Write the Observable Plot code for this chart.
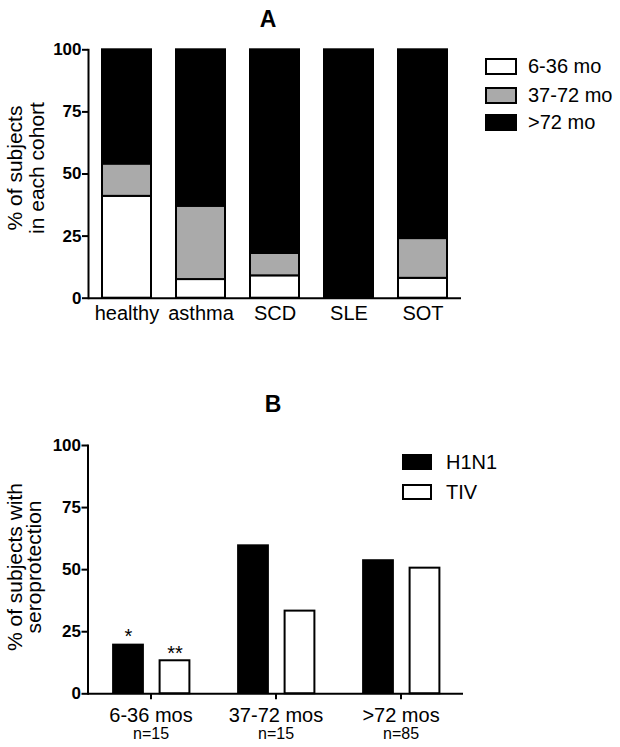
<!DOCTYPE html>
<html>
<head>
<meta charset="utf-8">
<script src="https://cdn.jsdelivr.net/npm/d3@7"></script>
<script src="https://cdn.jsdelivr.net/npm/@observablehq/plot@0.6"></script>
<style>
  body { margin: 0; background: #fff; }
  #fig { position: relative; width: 620px; height: 747px; overflow: hidden; color: #000;
         font-family: "Liberation Sans", Arial, sans-serif; }
  #fig svg { position: absolute; left: 0; }
  .ptitle { position: absolute; font-weight: bold; font-size: 23px; line-height: 23px;
            transform: translateX(-50%); }
  .ytitle { position: absolute; width: 260px; text-align: center; font-size: 21px;
            white-space: nowrap; transform: rotate(-90deg); }
  .lrow { position: absolute; display: flex; align-items: center; white-space: nowrap; font-size: 20px; }
  .sw { box-sizing: border-box; border: 2px solid #000; display: inline-block; }
</style>
</head>
<body>
<div id="fig"></div>
<script>
// ---------- Panel A data ----------
const titleA = "A";
const yTitleA = ["% of subjects", "in each cohort"];
const cohorts = ["healthy", "asthma", "SCD", "SLE", "SOT"];
const ageGroups = ["6-36 mo", "37-72 mo", ">72 mo"];
const age6to36 = [41, 7.5, 9, 0, 8];
const age37to72 = [13, 29.5, 9, 0, 16];
const ageOver72 = [46, 63, 82, 100, 76];
const ageColors = ["#ffffff", "#aaaaaa", "#000000"];
const yTicks = [0, 25, 50, 75, 100];

// ---------- Panel B data ----------
const titleB = "B";
const yTitleB = ["% of subjects with", "seroprotection"];
const ageBands = ["6-36 mos", "37-72 mos", ">72 mos"];
const nLabels = ["n=15", "n=15", "n=85"];
const vaccines = ["H1N1", "TIV"];
const vaccineFills = ["#000000", "#ffffff"];
const h1n1 = [20, 60, 54];
const tiv = [13.3, 33.3, 50.6];
const sigH1N1 = ["*", "", ""];
const sigTIV = ["**", "", ""];

// ---------- tables ----------
const seriesA = [age6to36, age37to72, ageOver72];
const tableA = [];
cohorts.forEach((c, i) => ageGroups.forEach((g, j) => tableA.push({cohort: c, age: g, pct: seriesA[j][i]})));

const tableH1N1 = ageBands.map((b, i) => ({band: b, pct: h1n1[i], sig: sigH1N1[i]}));
const tableTIV = ageBands.map((b, i) => ({band: b, pct: tiv[i], sig: sigTIV[i]}));
const tableN = ageBands.map((b, i) => ({band: b, n: nLabels[i]}));

const fig = document.getElementById("fig");
const fontStyle = {fontFamily: '"Liberation Sans", Arial, sans-serif', fontSize: "17px", color: "#000", background: "transparent"};
const yAxisOpts = {ticks: yTicks, tickSize: 6, tickPadding: 1, fontSize: 17, fontWeight: "bold", strokeWidth: 2, label: null};

// make axis tick labels bold and ticks heavy (as in the reference)
function styleAxes(svg) {
  svg.querySelectorAll("g[aria-label]").forEach(g => {
    const a = g.getAttribute("aria-label");
    if (a === "y-axis tick label") { g.setAttribute("font-weight", "bold"); g.style.fontWeight = "bold"; }
    if (a === "y-axis tick" || a === "x-axis tick" || a === "frame") {
      g.setAttribute("stroke-width", "2");
      g.querySelectorAll("path,line,rect").forEach(p => p.setAttribute("stroke-width", "2"));
    }
  });
}

// ---------- Panel A ----------
const plotA = Plot.plot({
  width: 620, height: 340,
  marginLeft: 88, marginRight: 159, marginTop: 49.3, marginBottom: 42.3,
  style: fontStyle,
  x: {domain: cohorts, paddingInner: 0.342, paddingOuter: 0.174},
  y: {domain: [0, 100]},
  color: {domain: ageGroups, range: ageColors},
  marks: [
    Plot.barY(tableA, {x: "cohort", y: "pct", fill: "age", stroke: "#000", strokeWidth: 2}),
    Plot.ruleY([0], {strokeWidth: 2}),
    Plot.frame({anchor: "left", strokeWidth: 2}),
    Plot.axisY(yAxisOpts),
    Plot.axisX({tickSize: 0, tickPadding: 8, fontSize: 20, label: null})
  ]
});
styleAxes(plotA);
plotA.style.top = "0px";
fig.appendChild(plotA);

// ---------- Panel B ----------
const plotB = Plot.plot({
  width: 620, height: 387,
  marginLeft: 87.5, marginRight: 157, marginTop: 85, marginBottom: 53.7,
  style: fontStyle,
  x: {domain: ageBands, padding: 0},
  y: {domain: [0, 100]},
  marks: [
    Plot.barY(tableH1N1, {x: "band", y: "pct", fill: vaccineFills[0], insetLeft: 24.1, insetRight: 69.1}),
    Plot.barY(tableTIV, {x: "band", y: "pct", fill: vaccineFills[1], stroke: "#000", strokeWidth: 2, insetLeft: 71.6, insetRight: 23.6}),
    Plot.text(tableH1N1, {x: "band", y: "pct", text: "sig", dx: -22.5, dy: -1, lineAnchor: "bottom", fontSize: 20}),
    Plot.text(tableTIV, {x: "band", y: "pct", text: "sig", dx: 24, dy: -1, lineAnchor: "bottom", fontSize: 20}),
    Plot.text(tableN, {x: "band", text: "n", frameAnchor: "bottom", dy: 34, lineAnchor: "top", fontSize: 16}),
    Plot.ruleY([0], {strokeWidth: 2}),
    Plot.frame({anchor: "left", strokeWidth: 2}),
    Plot.axisY(yAxisOpts),
    Plot.axisX({tickSize: 6, tickPadding: 8, fontSize: 20, strokeWidth: 2, label: null})
  ]
});
styleAxes(plotB);
plotB.style.top = "360px";
fig.appendChild(plotB);

// ---------- HTML titles, y titles, legends ----------
function addDiv(cls, css, html) {
  const d = document.createElement("div");
  d.className = cls;
  Object.assign(d.style, css);
  d.innerHTML = html;
  fig.appendChild(d);
  return d;
}
function esc(s) { return s.replace(/&/g, "&amp;").replace(/</g, "&lt;").replace(/>/g, "&gt;"); }

addDiv("ptitle", {left: "268px", top: "7.5px"}, esc(titleA));
addDiv("ptitle", {left: "273px", top: "393px"}, esc(titleB));

addDiv("ytitle", {left: (26 - 130) + "px", top: (168 - 22) + "px", lineHeight: "22px"}, yTitleA.map(esc).join("<br>"));
addDiv("ytitle", {left: (23.5 - 130) + "px", top: (567 - 19) + "px", lineHeight: "19px"}, yTitleB.map(esc).join("<br>"));

// legend A
const legendATops = [58, 86.5, 114];
ageGroups.forEach((g, j) => {
  addDiv("lrow", {left: "485px", top: legendATops[j] + "px", height: "17px"},
    `<span class="sw" style="width:32px;height:17px;background:${ageColors[j]}"></span><span style="margin-left:11px">${esc(g)}</span>`);
});
// legend B
const legendBTops = [454, 484];
vaccines.forEach((v, j) => {
  addDiv("lrow", {left: "402px", top: legendBTops[j] + "px", height: "16px"},
    `<span class="sw" style="width:30px;height:16px;background:${vaccineFills[j]}"></span><span style="margin-left:14px">${esc(v)}</span>`);
});
</script>
</body>
</html>
